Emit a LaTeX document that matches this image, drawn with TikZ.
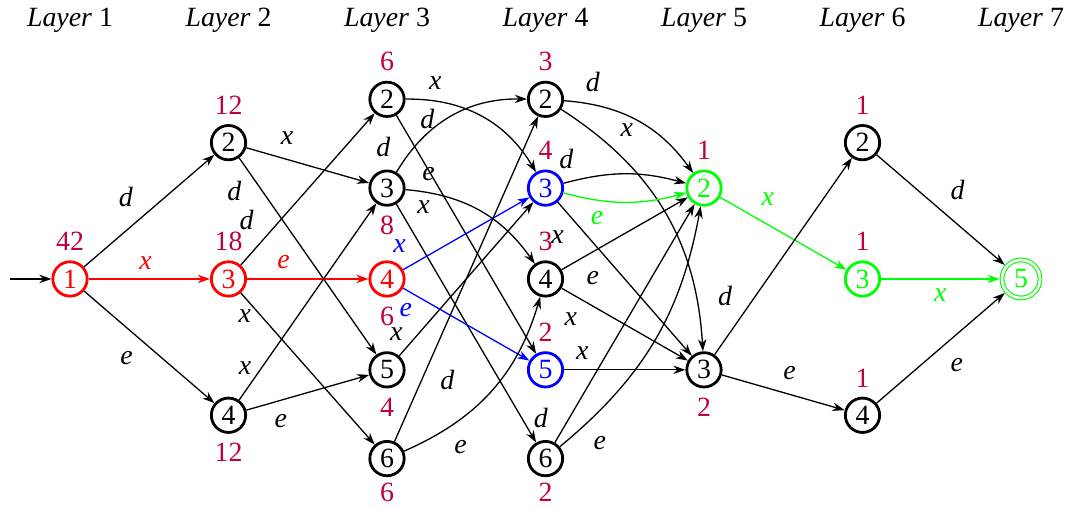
\documentclass[tikz,border=0pt]{standalone}
\usepackage{fontspec}
\setmainfont{Liberation Serif}
\usetikzlibrary{arrows.meta,positioning}

\begin{document}
\fontsize{15}{18}\selectfont
\begin{tikzpicture}[>={Stealth[length=2.3mm,width=1.6mm]}, node distance=3cm,
                    label distance=0pt]
  \tikzstyle{vertex} = [circle, draw, line width=1.5pt, minimum size=6.5mm,
                        inner sep=0pt, on grid]
  \tikzstyle{accept} = [vertex, double, line width=0.6pt, double distance=1.4pt,
                        minimum size=7.2mm, outer sep=1.3pt]
  \tikzstyle{count} = [text=purple]
  \tikzstyle{edge} = [->, line width=0.7pt]
  \tikzstyle{lbl} = [auto, font=\itshape]
\useasboundingbox (-1.325,-4.336) rectangle (18.89,5.28);

\foreach \i in {1,...,7}
  \node (T\i) at ({3*(\i-1)},4.9) {\textit{Layer} \i};

% states, column by column
\node[vertex, red, label={[count]above:42}] (A1) {1};

\node[vertex, red, right=of A1, label={[count]above:18}] (B3) {3};
\node[vertex, above=2.58cm of B3, label={[count]above:12}] (B2) {2};
\node[vertex, below=2.58cm of B3, label={[count]below:12}] (B4) {4};

\node[vertex, red, right=of B3, label={[count]below:6}] (C4) {4};
\node[vertex, above=1.72cm of C4, label={[count]below:8}] (C3) {3};
\node[vertex, above=3.4cm of C4, label={[count]above:6}] (C2) {2};
\node[vertex, below=1.72cm of C4, label={[count]below:4}] (C5) {5};
\node[vertex, below=3.4cm of C4, label={[count, label distance=-2pt]below:6}] (C6) {6};

\node[vertex, right=of C4, label={[count]above:3}] (D4) {4};
\node[vertex, blue, above=1.72cm of D4, label={[count]above:4}] (D3) {3};
\node[vertex, above=3.4cm of D4, label={[count]above:3}] (D2) {2};
\node[vertex, blue, below=1.72cm of D4, label={[count]above:2}] (D5) {5};
\node[vertex, below=3.4cm of D4, label={[count, label distance=-2pt]below:2}] (D6) {6};

\node[vertex, green, right=of D3, label={[count]above:1}] (E2) {2};
\node[vertex, right=of D5, label={[count]below:2}] (E3) {3};

\node[vertex, green, right=6cm of D4, label={[count]above:1}] (F3) {3};
\node[vertex, above=2.58cm of F3, label={[count]above:1}] (F2) {2};
\node[vertex, below=2.58cm of F3, label={[count]above:1}] (F4) {4};

\node[accept, green, right=of F3] (G5) {5};

\coordinate (start) at (-1.135,0);

% transitions
\draw[edge] (start) -- (A1);
\draw[edge] (A1) -- node[lbl, pos=.45] {d} (B2);
\draw[edge, red] (A1) -- node[lbl, pos=.47] {x} (B3);
\draw[edge] (A1) -- node[lbl, swap, pos=.45] {e} (B4);

\draw[edge] (B2) -- node[lbl, pos=.2] {x} (C3);
\draw[edge] (B2) -- node[font=\itshape, pos=.17, left=6pt] {d} (C5);
\draw[edge] (B3) -- node[lbl, pos=.17] {d} (C2);
\draw[edge, red] (B3) -- node[lbl, pos=.3] {e} (C4);
\draw[edge] (B3) -- node[font=\itshape, pos=.15, left] {x} (C6);
\draw[edge] (B4) -- node[font=\itshape, pos=.16, left] {x} (C3);
\draw[edge] (B4) -- node[lbl, swap, pos=.15] {e} (C5);

\draw[edge] (C2) to[bend left=30] node[lbl, pos=.08] {x} (D3);
\draw[edge] (C2) -- node[lbl, pos=.1] {d} (D5);
\draw[edge] (C3) to[bend left=30] node[lbl, pos=.04] {d} (D2);
\draw[edge] (C3) to[bend left=25] node[lbl, pos=.04] {e} (D4);
\draw[edge] (C3) -- node[lbl, pos=.08] {x} (D6);
\draw[edge, blue] (C4) -- node[lbl, pos=.1] {x} (D3);
\draw[edge, blue] (C4) -- node[lbl, swap, pos=.12, xshift=2pt, yshift=2pt] {e} (D5);
\draw[edge] (C5) -- node[lbl, pos=.07, xshift=2pt, yshift=-3pt] {x} (D3);
\draw[edge] (C6) -- node[lbl, swap, pos=.25] {d} (D2);
\draw[edge] (C6) to[bend right=25] node[lbl, swap, pos=.2] {e} (D4);

\draw[edge] (D2) to[bend left=25] node[lbl, pos=.07] {d} (E2);
\draw[edge] (D2) to[bend left=27] node[lbl, pos=.2] {x} (E3);
\draw[edge] (D3) to[bend left=15] node[lbl, pos=.15] {d} (E2);
\draw[edge, green] (D3) to[bend right=15] node[lbl, swap, pos=.4] {e} (E2);
\draw[edge] (D3) -- node[lbl, swap, pos=.12] {x} (E3);
\draw[edge] (D4) -- node[lbl, swap, pos=.12] {e} (E2);
\draw[edge] (D4) -- node[lbl, swap, pos=.2] {x} (E3);
\draw[edge] (D5) -- node[lbl, pos=.15] {x} (E3);
\draw[edge] (D6) -- node[lbl, pos=.02] {d} (E2);
\draw[edge] (D6) to[bend right=20] node[lbl, swap, pos=.1] {e} (E2);

\draw[edge, green] (E2) -- node[lbl, pos=.25] {x} (F3);
\draw[edge] (E3) -- node[lbl, pos=.2] {d} (F2);
\draw[edge] (E3) -- node[lbl, pos=.42] {e} (F4);

\draw[edge] (F2) -- node[lbl] {d} (G5);
\draw[edge, green] (F3) -- node[lbl, swap] {x} (G5);
\draw[edge] (F4) -- node[lbl, swap] {e} (G5);

\end{tikzpicture}
\end{document}
